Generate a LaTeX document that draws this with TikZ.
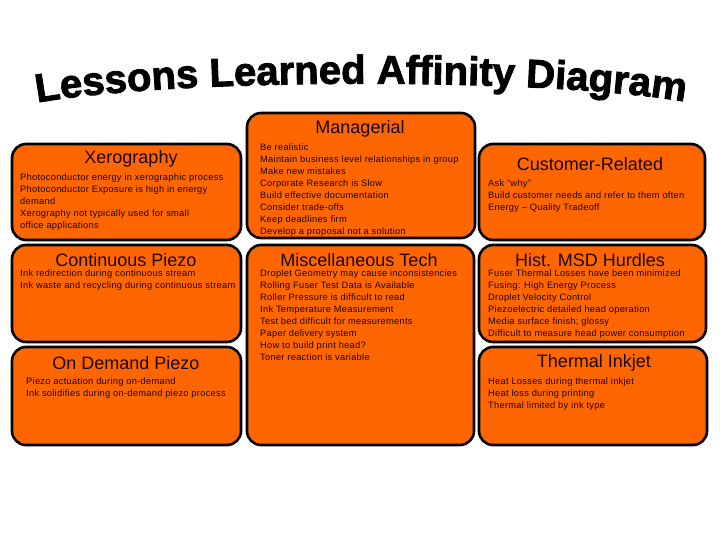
\documentclass[tikz,border=0pt]{standalone}
\usepackage{fontspec}
\setmainfont{Liberation Sans}
\newfontfamily\archfont{Liberation Sans}[UprightFont=* Bold, FakeBold=2.2]
\newfontfamily\bodyfont{Liberation Sans}[LetterSpace=3, Ligatures=TeX]
\usetikzlibrary{decorations.text}
\definecolor{boxorange}{HTML}{FF6600}
\definecolor{txt}{HTML}{1A0500}
\begin{document}
\begin{tikzpicture}[x=1pt,y=-1pt,
  box/.style={draw=black, line width=2.6pt, fill=boxorange, rounded corners=14pt, inner sep=0pt},
  boxtitle/.style={text=txt, font=\fontsize{18}{18}\selectfont, inner sep=0pt, anchor=center},
  boxbody/.style={text=txt, font=\bodyfont\fontsize{9.3}{12}\selectfont, inner sep=0pt, anchor=north west, align=left}]
\useasboundingbox[fill=white] (0,0) rectangle (720,540);

% title
\coordinate (tA) at (30,104);
\coordinate (tB) at (692,103);
\path[decorate, decoration={text along path, text align=center,
  text={|\archfont\fontsize{40}{40}\selectfont|Lessons Learned Affinity Diagram}}]
  (tA) .. controls (165,77) and (557,77) .. (tB);

% boxes
\node[box, minimum width=229pt, minimum height=96pt] (xero) at (126.5,192) {};
\node[box, minimum width=229pt, minimum height=97pt] (cont) at (126.5,293.5) {};
\node[box, minimum width=229pt, minimum height=98pt] (ondem) at (126.5,396) {};
\node[box, minimum width=228pt, minimum height=125pt] (mgr) at (361,175.5) {};
\node[box, minimum width=227pt, minimum height=200pt] (misc) at (360.5,345) {};
\node[box, minimum width=226pt, minimum height=96pt] (cust) at (592,192) {};
\node[box, minimum width=227pt, minimum height=97pt] (hist) at (592.5,293.5) {};
\node[box, minimum width=228pt, minimum height=98pt] (therm) at (593,396) {};

% titles
\node[boxtitle] (xeroT) at (131,159) {Xerography};
\node[boxtitle] (contT) at (126,260) {Continuous Piezo};
\node[boxtitle] (ondemT) at (126,363) {On Demand Piezo};
\node[boxtitle] (mgrT) at (360,129) {Managerial};
\node[boxtitle] (miscT) at (359,260) {Miscellaneous Tech};
\node[boxtitle] (custT) at (590,164) {Customer-Related};
\node[boxtitle] (histT) at (590,260) {Hist. MSD Hurdles};
\node[boxtitle] (thermT) at (594,363) {Thermal Inkjet};

% bodies
\node[boxbody] (xeroB) at (20,173.4) {Photoconductor energy in xerographic process\\Photoconductor Exposure is high in energy\\demand\\Xerography not typically used for small\\office applications};
\node[boxbody] (contB) at (20,269.6) {Ink redirection during continuous stream\\Ink waste and recycling during continuous stream};
\node[boxbody] (ondemB) at (26,377.4) {Piezo actuation during on-demand\\Ink solidifies during on-demand piezo process};
\node[boxbody] (mgrB) at (260,143.4) {Be realistic\\Maintain business level relationships in group\\Make new mistakes\\Corporate Research is Slow\\Build effective documentation\\Consider trade-offs\\Keep deadlines firm\\Develop a proposal not a solution};
\node[boxbody] (miscB) at (260,269.6) {Droplet Geometry may cause inconsistencies\\Rolling Fuser Test Data is Available\\Roller Pressure is difficult to read\\Ink Temperature Measurement\\Test bed difficult for measurements\\Paper delivery system\\How to build print head?\\Toner reaction is variable};
\node[boxbody] (custB) at (488,179.4) {Ask "why"\\Build customer needs and refer to them often\\Energy – Quality Tradeoff};
\node[boxbody] (histB) at (488,269.6) {Fuser Thermal Losses have been minimized\\Fusing: High Energy Process\\Droplet Velocity Control\\Piezoelectric detailed head operation\\Media surface finish; glossy\\Difficult to measure head power consumption};
\node[boxbody] (thermB) at (488,377.4) {Heat Losses during thermal inkjet\\Heat loss during printing\\Thermal limited by ink type};
\end{tikzpicture}
\end{document}
